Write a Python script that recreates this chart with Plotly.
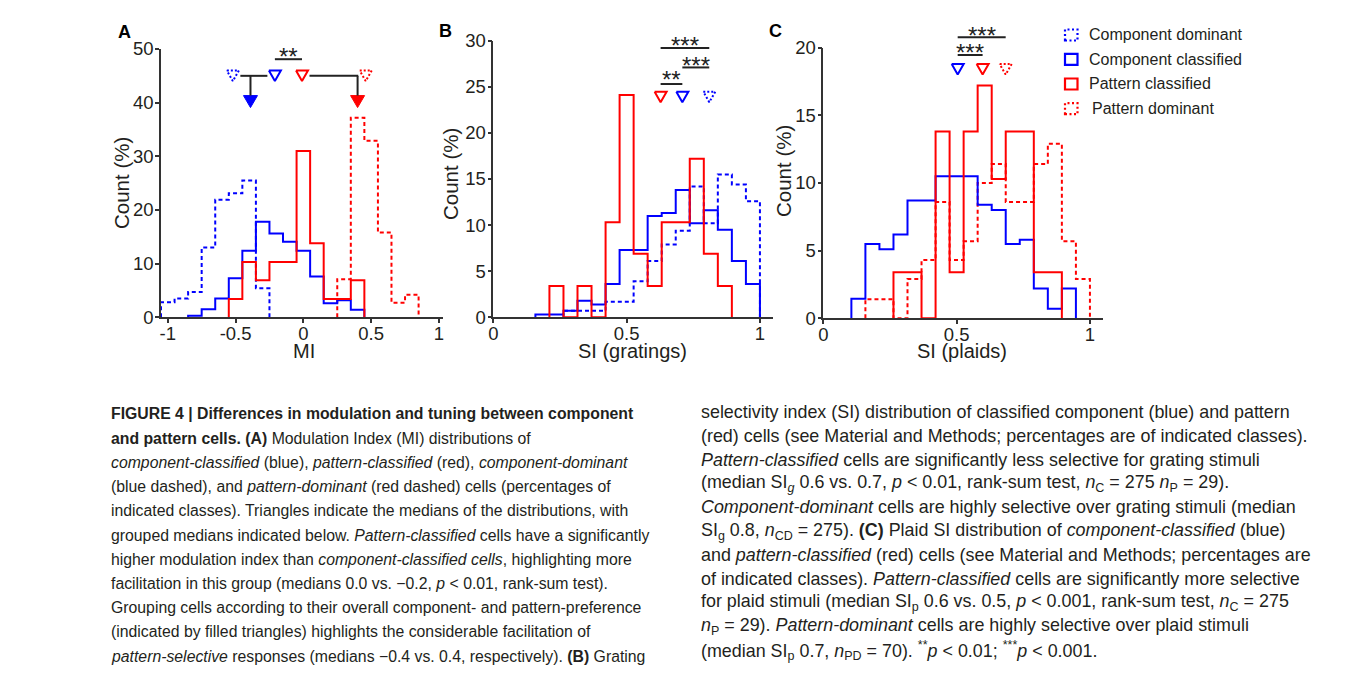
import plotly.graph_objects as go

W, H = 1358, 681
BLUE = '#0000ff'
RED = '#ff0000'
INK = '#231f20'
AXC = '#333333'
FONT = 'Liberation Sans, Arial, Helvetica, sans-serif'

# ---------------- data ----------------
# Panel A: modulation index, bin edges (width 0.1)
A_EDGES = [-1.05, -0.95, -0.85, -0.75, -0.65, -0.55, -0.45, -0.35, -0.25, -0.15,
           -0.05, 0.05, 0.15, 0.25, 0.35, 0.45, 0.55, 0.65, 0.75, 0.85]
A_COMP_DOM = [2.8, 3.5, 4.7, 13.0, 21.9, 23.1, 25.5, 5.4, 0, 0, 0, 0, 0, 0, 0, 0, 0, 0, 0]
A_COMP_CLS = [0, 0, 0.3, 1.5, 3.5, 7.3, 12.4, 17.8, 15.6, 14.1, 12.4, 7.6, 2.6, 3.2, 1.4, 0, 0, 0, 0]
A_PAT_CLS = [0, 0, 0, 0, 0, 3.4, 10.3, 6.9, 10.3, 10.3, 31.0, 13.8, 3.4, 3.4, 6.9, 0, 0, 0, 0]
A_PAT_DOM = [0, 0, 0, 0, 0, 0, 0, 0, 0, 0, 0, 0, 0, 7.1, 37.2, 32.9, 15.8, 2.7, 4.2]
A_MED_OPEN = {'comp_dom': -0.52, 'comp_cls': -0.21, 'pat_cls': -0.01, 'pat_dom': 0.46}
A_MED_GROUP = {'comp': -0.39, 'pat': 0.40}
A_XTICKS = [-1, -0.5, 0, 0.5, 1]
A_XLABELS = ['-1', '-0.5', '0', '0.5', '1']
A_YTICKS = [0, 10, 20, 30, 40, 50]

# Panels B and C: selectivity index, 19 bins on [0, 1]
SI_EDGES = [0.0, 0.0526, 0.1053, 0.1579, 0.2105, 0.2632, 0.3158, 0.3684, 0.4211, 0.4737,
            0.5263, 0.5789, 0.6316, 0.6842, 0.7368, 0.7895, 0.8421, 0.8947, 0.9474, 1.0]
B_COMP_DOM = [0, 0, 0, 0, 0, 0.7, 0.7, 0.7, 1.7, 1.7, 3.9, 6.1, 7.9, 9.4, 14.2, 10.2, 15.5, 14.4, 12.6]
B_COMP_CLS = [0, 0, 0, 0.3, 0.3, 0.7, 1.8, 1.4, 3.6, 7.3, 7.3, 11.0, 11.3, 13.8, 10.2, 11.6, 9.5, 6.1, 3.6]
B_PAT_CLS = [0, 0, 0, 0, 3.4, 0, 3.4, 0, 10.3, 24.1, 6.9, 3.4, 10.3, 10.3, 17.2, 6.9, 3.4, 0, 0]
B_MED = {'pat_cls': 0.6275, 'comp_cls': 0.709, 'comp_dom': 0.81}
B_XTICKS = [0, 0.5, 1]
B_XLABELS = ['0', '0.5', '1']
B_YTICKS = [0, 5, 10, 15, 20, 25, 30]

C_COMP_CLS = [0, 0, 1.45, 5.5, 5.1, 6.2, 8.7, 8.7, 10.5, 10.5, 10.5, 8.4, 8.0, 5.5, 5.8, 2.2, 0.7, 2.2, 0]
C_PAT_CLS = [0, 0, 0, 0, 0, 3.4, 3.4, 0, 13.8, 3.4, 13.8, 17.2, 10.3, 13.8, 13.8, 3.4, 3.4, 0, 0]
C_PAT_DOM = [0, 0, 0, 1.4, 1.4, 0, 2.9, 4.3, 8.6, 4.3, 5.7, 10.0, 11.4, 8.6, 8.6, 11.4, 12.9, 5.7, 2.9]
C_MED = {'comp_cls': 0.504, 'pat_cls': 0.5975, 'pat_dom': 0.684}
C_XTICKS = [0, 0.5, 1]
C_XLABELS = ['0', '0.5', '1']
C_YTICKS = [0, 5, 10, 15, 20]

LEGEND_LABELS = ['Component dominant', 'Component classified', 'Pattern classified', 'Pattern dominant']

CAPTION_LEFT = [
    "<b>FIGURE 4 | Differences in modulation and tuning between component</b>",
    "<b>and pattern cells. (A)</b> Modulation Index (MI) distributions of",
    "<i>component-classified</i> (blue), <i>pattern-classified</i> (red), <i>component-dominant</i>",
    "(blue dashed), and <i>pattern-dominant</i> (red dashed) cells (percentages of",
    "indicated classes). Triangles indicate the medians of the distributions, with",
    "grouped medians indicated below. <i>Pattern-classified</i> cells have a significantly",
    "higher modulation index than <i>component-classified cells</i>, highlighting more",
    "facilitation in this group (medians 0.0 vs. \u22120.2, <i>p</i> &lt; 0.01, rank-sum test).",
    "Grouping cells according to their overall component- and pattern-preference",
    "(indicated by filled triangles) highlights the considerable facilitation of",
    "<i>pattern-selective</i> responses (medians \u22120.4 vs. 0.4, respectively). <b>(B)</b> Grating",
]
CAPTION_RIGHT = [
    "selectivity index (SI) distribution of classified component (blue) and pattern",
    "(red) cells (see Material and Methods; percentages are of indicated classes).",
    "<i>Pattern-classified</i> cells are significantly less selective for grating stimuli",
    "(median SI<sub><i>g</i></sub> 0.6 vs. 0.7, <i>p</i> &lt; 0.01, rank-sum test, <i>n</i><sub>C</sub> = 275 <i>n</i><sub>P</sub> = 29).",
    "<i>Component-dominant</i> cells are highly selective over grating stimuli (median",
    "SI<sub>g</sub> 0.8, <i>n</i><sub>CD</sub> = 275). <b>(C)</b> Plaid SI distribution of <i>component-classified</i> (blue)",
    "and <i>pattern-classified</i> (red) cells (see Material and Methods; percentages are",
    "of indicated classes). <i>Pattern-classified</i> cells are significantly more selective",
    "for plaid stimuli (median SI<sub>p</sub> 0.6 vs. 0.5, <i>p</i> &lt; 0.001, rank-sum test, <i>n</i><sub>C</sub> = 275",
    "<i>n</i><sub>P</sub> = 29). <i>Pattern-dominant</i> cells are highly selective over plaid stimuli",
    "(median SI<sub>p</sub> 0.7, <i>n</i><sub>PD</sub> = 70). <sup>**</sup><i>p</i> &lt; 0.01; <sup>***</sup><i>p</i> &lt; 0.001.",
]

# ---------------- geometry (pixels) ----------------
PANELS = [
    dict(label='A', x0=161, x1=443, xr=(-1.05, 1.03), yb=317.3, yt=49.0, yr=(0, 50),
         xt=A_XTICKS, xl=A_XLABELS, yt_vals=A_YTICKS, xtitle='MI',
         xtitle_pos=(304, 351), ytitle_pos=(122, 183), letter_pos=(124, 32)),
    dict(label='B', x0=493.3, x1=773, xr=(0, 1.049), yb=317.3, yt=40.7, yr=(0, 30),
         xt=B_XTICKS, xl=B_XLABELS, yt_vals=B_YTICKS, xtitle='SI (gratings)',
         xtitle_pos=(632, 351), ytitle_pos=(450, 174), letter_pos=(445, 31)),
    dict(label='C', x0=823.3, x1=1103, xr=(0, 1.049), yb=318.3, yt=47.7, yr=(0, 20),
         xt=C_XTICKS, xl=C_XLABELS, yt_vals=C_YTICKS, xtitle='SI (plaids)',
         xtitle_pos=(962, 351), ytitle_pos=(784, 171), letter_pos=(775, 31)),
]


def pxx(x):
    return x / W


def pxy(y):
    return 1 - y / H


fig = go.Figure()
annotations = []
shapes = []
layout = dict(width=W, height=H, margin=dict(l=0, r=0, t=0, b=0, autoexpand=False),
              paper_bgcolor='white', plot_bgcolor='rgba(0,0,0,0)', showlegend=False)

for i, p in enumerate(PANELS):
    n = i + 1
    m = i + 4
    xa = 'xaxis' if n == 1 else f'xaxis{n}'
    ya = 'yaxis' if n == 1 else f'yaxis{n}'
    xref = 'x' if n == 1 else f'x{n}'
    yref = 'y' if n == 1 else f'y{n}'
    tick_common = dict(showline=True, linecolor=AXC, linewidth=1.6, ticks='outside',
                       ticklen=4, tickwidth=1.6, tickcolor=AXC, showgrid=False,
                       zeroline=False, fixedrange=True,
                       tickfont=dict(family=FONT, size=18.5, color=INK))
    layout[xa] = dict(domain=[pxx(p['x0']), pxx(p['x1'])], range=list(p['xr']),
                      anchor=yref, tickvals=p['xt'], ticktext=p['xl'],
                      ticklabelstandoff=-5, **tick_common)
    layout[ya] = dict(domain=[pxy(p['yb']), pxy(p['yt'])], range=list(p['yr']),
                      anchor=xref, tickvals=p['yt_vals'],
                      ticktext=[str(v) for v in p['yt_vals']],
                      ticklabelstandoff=-2, **tick_common)
    # tall hidden overlay axes (same scale) for medians and significance brackets
    ytop = p['yr'][1] * p['yb'] / (p['yb'] - p['yt'])
    layout[f'xaxis{m}'] = dict(domain=[pxx(p['x0']), pxx(p['x1'])], range=list(p['xr']),
                               anchor=f'y{m}', visible=False, fixedrange=True)
    layout[f'yaxis{m}'] = dict(domain=[pxy(p['yb']), 1.0], range=[0, ytop],
                               anchor=f'x{m}', visible=False, fixedrange=True)
    p['ppx'] = (p['x1'] - p['x0']) / (p['xr'][1] - p['xr'][0])
    p['ppy'] = (p['yb'] - p['yt']) / (p['yr'][1] - p['yr'][0])
    p['ref'] = (xref, yref)
    p['oref'] = (f'x{m}', f'y{m}')
    # titles & letter
    annotations.append(dict(text=p['xtitle'], x=pxx(p['xtitle_pos'][0]), y=pxy(p['xtitle_pos'][1]),
                            xref='paper', yref='paper', showarrow=False,
                            xanchor='center', yanchor='middle',
                            font=dict(family=FONT, size=20, color=INK)))
    annotations.append(dict(text='Count (%)', x=pxx(p['ytitle_pos'][0]), y=pxy(p['ytitle_pos'][1]),
                            xref='paper', yref='paper', showarrow=False, textangle=-90,
                            xanchor='center', yanchor='middle',
                            font=dict(family=FONT, size=20.5, color=INK)))
    annotations.append(dict(text='<b>%s</b>' % p['label'], x=pxx(p['letter_pos'][0]),
                            y=pxy(p['letter_pos'][1]), xref='paper', yref='paper',
                            xanchor='center', yanchor='middle',
                            showarrow=False, font=dict(family=FONT, size=18, color='#000')))


def step_xy(edges, vals):
    nz = [k for k, v in enumerate(vals) if v > 0]
    a, b = nz[0], nz[-1]
    xs, ys = [edges[a]], [0]
    for k in range(a, b + 1):
        xs += [edges[k], edges[k + 1]]
        ys += [vals[k], vals[k]]
    xs.append(edges[b + 1])
    ys.append(0)
    return xs, ys


def add_hist(p, edges, vals, color, dashed):
    xs, ys = step_xy(edges, vals)
    fig.add_trace(go.Scatter(x=xs, y=ys, mode='lines', xaxis=p['ref'][0], yaxis=p['ref'][1],
                             line=dict(color=color, width=2, dash='4px,3px' if dashed else 'solid'),
                             hoverinfo='skip'))


def add_tri(p, xc, yc, color, dashed=False, filled=False, w=12, h=10.5):
    hx = w / 2 / p['ppx']
    hy = h / 2 / p['ppy']
    xs = [xc - hx, xc + hx, xc, xc - hx]
    ys = [yc + hy, yc + hy, yc - hy, yc + hy]
    if filled:
        fig.add_trace(go.Scatter(x=xs, y=ys, mode='lines', fill='toself', fillcolor=color,
                                 line=dict(color=color, width=1), xaxis=p['oref'][0],
                                 yaxis=p['oref'][1], hoverinfo='skip'))
    else:
        fig.add_trace(go.Scatter(x=xs, y=ys, mode='lines',
                                 line=dict(color=color, width=2, dash='2px,2px' if dashed else 'solid'),
                                 xaxis=p['oref'][0], yaxis=p['oref'][1], hoverinfo='skip'))


def add_seg(p, x0, x1, y0, y1, color='#222222', width=2):
    fig.add_trace(go.Scatter(x=[x0, x1], y=[y0, y1], mode='lines', line=dict(color=color, width=width),
                             xaxis=p['oref'][0], yaxis=p['oref'][1], hoverinfo='skip'))


def add_stars(p, x, y, txt):
    annotations.append(dict(text=txt, x=x, y=y, xref=p['oref'][0], yref=p['oref'][1],
                            showarrow=False, xanchor='center', yanchor='middle', yshift=-5,
                            font=dict(family=FONT, size=24, color='#222222')))


pA, pB, pC = PANELS

# ---- Panel A ----
add_hist(pA, A_EDGES, A_COMP_DOM, BLUE, True)
add_hist(pA, A_EDGES, A_PAT_DOM, RED, True)
add_hist(pA, A_EDGES, A_COMP_CLS, BLUE, False)
add_hist(pA, A_EDGES, A_PAT_CLS, RED, False)
yo, yf = 45.0, 40.2
add_tri(pA, A_MED_OPEN['comp_dom'], yo, BLUE, dashed=True)
add_tri(pA, A_MED_OPEN['comp_cls'], yo, BLUE)
add_tri(pA, A_MED_OPEN['pat_cls'], yo, RED)
add_tri(pA, A_MED_OPEN['pat_dom'], yo, RED, dashed=True)
add_tri(pA, A_MED_GROUP['comp'], yf, BLUE, filled=True, w=14, h=12)
add_tri(pA, A_MED_GROUP['pat'], yf, RED, filled=True, w=14, h=12)
hwA = 7.5 / pA['ppx']
add_seg(pA, A_MED_OPEN['comp_dom'] + hwA, A_MED_OPEN['comp_cls'] - hwA, yo, yo)
add_seg(pA, A_MED_GROUP['comp'], A_MED_GROUP['comp'], yo, yf + 6 / pA['ppy'])
add_seg(pA, A_MED_OPEN['pat_cls'] + hwA, A_MED_OPEN['pat_dom'] - hwA, yo, yo)
add_seg(pA, A_MED_GROUP['pat'], A_MED_GROUP['pat'], yo, yf + 6 / pA['ppy'])
add_seg(pA, A_MED_OPEN['comp_cls'], A_MED_OPEN['pat_cls'], 48.1, 48.1)
add_stars(pA, (A_MED_OPEN['comp_cls'] + A_MED_OPEN['pat_cls']) / 2, 49.5, '**')

# ---- Panel B ----
add_hist(pB, SI_EDGES, B_COMP_DOM, BLUE, True)
add_hist(pB, SI_EDGES, B_COMP_CLS, BLUE, False)
add_hist(pB, SI_EDGES, B_PAT_CLS, RED, False)
yB = 23.9
add_tri(pB, B_MED['pat_cls'], yB, RED)
add_tri(pB, B_MED['comp_cls'], yB, BLUE)
add_tri(pB, B_MED['comp_dom'], yB, BLUE, dashed=True)
add_seg(pB, B_MED['pat_cls'], B_MED['comp_cls'], 25.3, 25.3)
add_stars(pB, (B_MED['pat_cls'] + B_MED['comp_cls']) / 2, 26.3, '**')
add_seg(pB, B_MED['comp_cls'], B_MED['comp_dom'], 27.1, 27.1)
add_stars(pB, (B_MED['comp_cls'] + B_MED['comp_dom']) / 2, 27.9, '***')
add_seg(pB, B_MED['pat_cls'], B_MED['comp_dom'], 29.2, 29.2)
add_stars(pB, (B_MED['pat_cls'] + B_MED['comp_dom']) / 2, 30.0, '***')

# ---- Panel C ----
add_hist(pC, SI_EDGES, C_PAT_DOM, RED, True)
add_hist(pC, SI_EDGES, C_COMP_CLS, BLUE, False)
add_hist(pC, SI_EDGES, C_PAT_CLS, RED, False)
yC = 18.4
add_tri(pC, C_MED['comp_cls'], yC, BLUE)
add_tri(pC, C_MED['pat_cls'], yC, RED)
add_tri(pC, C_MED['pat_dom'], yC, RED, dashed=True)
add_seg(pC, C_MED['comp_cls'], C_MED['pat_cls'], 19.46, 19.46)
add_stars(pC, (C_MED['comp_cls'] + C_MED['pat_cls']) / 2, 20.0, '***')
add_seg(pC, C_MED['comp_cls'], C_MED['pat_dom'], 20.77, 20.77)
add_stars(pC, (C_MED['comp_cls'] + C_MED['pat_dom']) / 2, 21.3, '***')

# ---- legend (drawn manually with square outlines) ----
LEG_ROWS = [35, 59.3, 84, 108.7]
LEG_STYLE = [(BLUE, 'dot'), (BLUE, 'solid'), (RED, 'solid'), (RED, 'dot')]
LEG_TEXT_X = [1087, 1087, 1087, 1090]
for lab, yrow, (col, dsh), tx in zip(LEGEND_LABELS, LEG_ROWS, LEG_STYLE, LEG_TEXT_X):
    shapes.append(dict(type='rect', xref='paper', yref='paper',
                       x0=pxx(1065), x1=pxx(1077.5), y0=pxy(yrow + 5.5), y1=pxy(yrow - 5.5),
                       line=dict(color=col, width=2.2, dash='2px,2.5px' if dsh == 'dot' else 'solid')))
    annotations.append(dict(text=lab, x=pxx(tx), y=pxy(yrow), xref='paper', yref='paper',
                            xanchor='left', yanchor='middle', showarrow=False,
                            font=dict(family=FONT, size=16, color=INK)))

# ---- caption ----
for k, line in enumerate(CAPTION_LEFT):
    annotations.append(dict(text=line, x=pxx(109), y=pxy(414 + k * 24.2), xref='paper', yref='paper',
                            xanchor='left', yanchor='middle', showarrow=False,
                            font=dict(family=FONT, size=15.8, color=INK)))
for k, line in enumerate(CAPTION_RIGHT):
    annotations.append(dict(text=line, x=pxx(699), y=pxy(412 + k * 23.8), xref='paper', yref='paper',
                            xanchor='left', yanchor='middle', showarrow=False,
                            font=dict(family=FONT, size=17.9, color=INK)))

layout['annotations'] = annotations
layout['shapes'] = shapes
fig.update_layout(**layout)
fig.write_html('out.html', config={'displayModeBar': False},
               post_script="document.body.style.margin='0px';document.body.style.overflow='hidden';")
